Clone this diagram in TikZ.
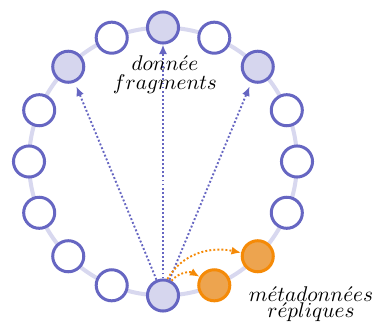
\documentclass[tikz,border=0pt]{standalone}
\usetikzlibrary{arrows.meta}
\definecolor{ringc}{HTML}{D8D8EF}
\definecolor{bstroke}{HTML}{6666C2}
\definecolor{bfill}{HTML}{D6D6EE}
\definecolor{ostroke}{HTML}{F58A07}
\definecolor{ofill}{HTML}{EDA44F}
\begin{document}
\begin{tikzpicture}[x=0.47pt,y=0.47pt,
 slot/.style={circle,draw=bstroke,line width=1.41pt,minimum size=14.6pt,inner sep=0pt,fill=white},
 dslot/.style={slot,fill=bfill},
 oslot/.style={slot,draw=ostroke,fill=ofill},
 barrow/.style={draw=bstroke,line width=0.9pt,dash pattern=on 0.9pt off 1pt,-{Latex[length=4.5pt,width=3.8pt]}},
 oarrow/.style={barrow,draw=ostroke},
 lab/.style={align=center,inner sep=0pt}]
\useasboundingbox (0,0) rectangle (373,325);
\draw[ringc,line width=1.9pt] (163,163.5) circle[radius=134];
\foreach \k/\st in {0/dslot,1/slot,2/dslot,3/slot,4/slot,5/slot,6/oslot,7/oslot,8/dslot,9/slot,10/slot,11/slot,12/slot,13/slot,14/dslot,15/slot}
  \node[\st] (s\k) at ({163+134*cos(90-22.5*\k)},{163.5+134*sin(90-22.5*\k)}) {};
\draw[barrow] (s8) -- (s0);
\draw[barrow,shorten >=2pt] (s8) -- (s14);
\draw[barrow,shorten >=2pt] (s8) -- (s2);
\draw[oarrow] (s8.75) to[out=60,in=168] (s6);
\draw[oarrow] (s8.60) to[out=50,in=150] (s7);
\node[lab] (t1) at (165,250) {$donn\acute{e}e$\\[-3pt]$fragments$};
\node[lab] (t2) at (311,21) {$m\acute{e}tadonn\acute{e}es$\\[-4.5pt]$r\acute{e}pliques$};
\end{tikzpicture}
\end{document}
